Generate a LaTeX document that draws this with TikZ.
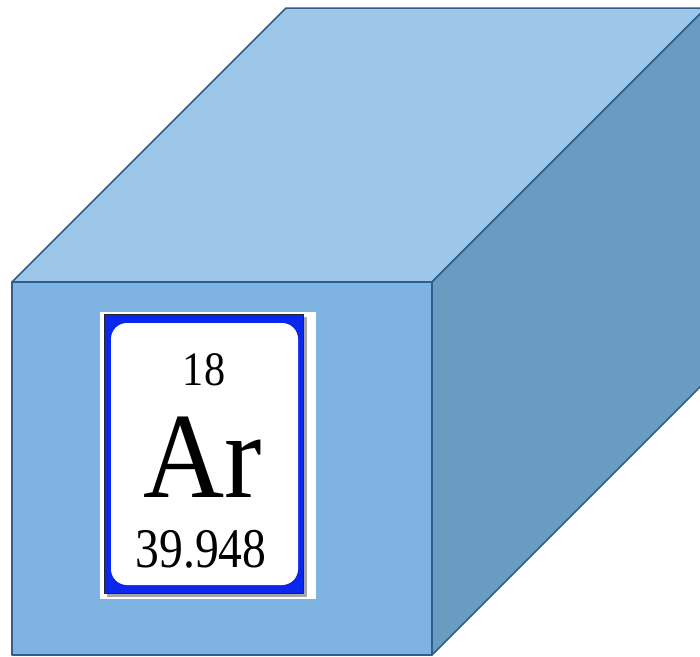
\documentclass[tikz,border=0pt]{standalone}
\usepackage{fontspec}
\setmainfont{Liberation Serif}
\definecolor{frontc}{RGB}{127,180,226}
\definecolor{topc}{RGB}{158,198,233}
\definecolor{rightc}{RGB}{106,155,192}
\definecolor{edgec}{RGB}{46,94,142}
\definecolor{cardblue}{RGB}{10,40,235}
\tikzset{
  face/.style={draw=edgec, line width=1.5pt, line join=round},
  cardtext/.style={inner sep=0pt, anchor=base, text=black}
}
\begin{document}
\begin{tikzpicture}[x=1pt,y=-1pt]
\useasboundingbox (0,0) rectangle (700,656);
\clip (0,0) rectangle (700,656);
% cube
\draw[face, fill=topc] (12,282) -- (286,8) -- (706,8) -- (432,282) -- cycle;
\draw[face, fill=rightc] (432,282) -- (706,8) -- (706,381) -- (432,655) -- cycle;
\draw[face, fill=frontc] (12,282) rectangle (432,655);
% element card
\fill[white] (100,312) rectangle (316,599);
\fill[black!35] (107,317) rectangle (307,597);
\draw[fill=cardblue, draw=black!85, line width=1pt] (104,314) rectangle (303,593);
\fill[white, rounded corners=16pt] (111,323) rectangle (298,585);
\node[cardtext, font=\fontsize{48}{48}\selectfont, xscale=0.88] (num) at (204,385) {18};
\node[cardtext, font=\fontsize{122}{122}\selectfont, xscale=0.92] (sym) at (203,497) {Ar};
\node[cardtext, font=\fontsize{56}{56}\selectfont, xscale=0.85] (mass) at (201,567) {39.948};
\end{tikzpicture}
\end{document}
